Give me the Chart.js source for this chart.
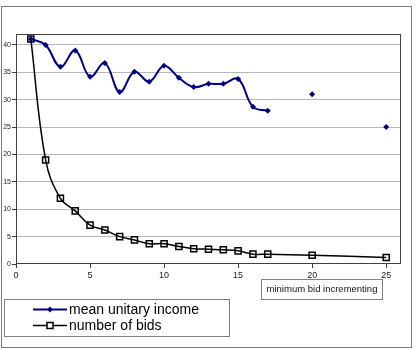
<!DOCTYPE html>
<html>
<head>
<meta charset="utf-8">
<script src="https://cdn.jsdelivr.net/npm/chart.js@4.4.1/dist/chart.umd.min.js"></script>
<style>
html,body{margin:0;padding:0;background:#fff}
#wrap{width:416px;height:349px}
</style>
</head>
<body>
<div id="wrap"><canvas id="chart" width="416" height="349"></canvas></div>
<script>
// minimum bid increment (x)
const increments=[1,2,3,4,5,6,7,8,9,10,11,12,13,14,15,16,17,18,19,20,21,22,23,24,25]
const meanIncome=[41.1,40,36,39,34.2,36.7,31.4,35.1,33.3,36.2,34,32.3,32.9,32.9,33.8,28.7,28,null,null,31,null,null,null,null,25]
const numBids=[41.1,19,12,9.7,7.1,6.2,5,4.4,3.7,3.7,3.2,2.8,2.7,2.6,2.4,1.8,1.8,null,null,1.6,null,null,null,null,1.2]
const seriesNames=['mean unitary income','number of bids']
const xTitle='minimum bid incrementing'

const font="'Liberation Sans', Arial, sans-serif"
const navy='#000080'

function pts(arr){
    return increments.map((x,i)=>({x:x,y:arr[i]}))
}

const frame={
    id:'frame',
    beforeDraw(chart){
        const ctx=chart.ctx
        ctx.save()
        ctx.fillStyle='#fff'
        ctx.fillRect(0,0,chart.width,chart.height)
        ctx.restore()
    },
    beforeDatasetsDraw(chart){
        const a=chart.chartArea
        const ctx=chart.ctx
        ctx.save()
        ctx.strokeStyle='#404040'
        ctx.lineWidth=1
        ctx.strokeRect(Math.round(a.left)+0.5,Math.round(a.top)+0.5,Math.round(a.right-a.left)-1,Math.round(a.bottom-a.top)-1)
        ctx.restore()
    },
    afterDraw(chart){
        const ctx=chart.ctx
        ctx.save()
        ctx.lineWidth=1
        // outer border
        ctx.strokeStyle='#7a7a7a'
        ctx.strokeRect(1.5,6.5,410,341)
        // axis title box
        ctx.strokeStyle='#808080'
        ctx.strokeRect(261.5,279.5,121,20)
        ctx.fillStyle='#111'
        ctx.font='9.5px '+font
        ctx.textAlign='center'
        ctx.textBaseline='middle'
        ctx.fillText(xTitle,322,289.5)
        // legend
        ctx.strokeStyle='#808080'
        ctx.strokeRect(4.5,299.5,225,37)
        const rows=[309,325]
        chart.data.datasets.forEach((ds,i)=>{
            const y=rows[i]+0.5
            ctx.strokeStyle=ds.borderColor
            ctx.lineWidth=ds.borderWidth
            ctx.beginPath()
            ctx.moveTo(33,y)
            ctx.lineTo(67,y)
            ctx.stroke()
            if(i===0){
                ctx.fillStyle=navy
                ctx.beginPath()
                ctx.moveTo(50,y-3)
                ctx.lineTo(53,y)
                ctx.lineTo(50,y+3)
                ctx.lineTo(47,y)
                ctx.closePath()
                ctx.fill()
            }else{
                ctx.fillStyle='#fff'
                ctx.fillRect(47,y-3,6,6)
                ctx.lineWidth=1.5
                ctx.strokeStyle='#000'
                ctx.strokeRect(47,y-3,6,6)
            }
            ctx.fillStyle='#000'
            ctx.font='14px '+font
            ctx.textAlign='left'
            ctx.textBaseline='middle'
            ctx.fillText(ds.label,69,rows[i]+1)
        })
        ctx.restore()
    }
}

new Chart(document.getElementById('chart'),{
    type:'line',
    data:{
        datasets:[{
            label:seriesNames[0],
            data:pts(meanIncome),
            borderColor:navy,
            backgroundColor:navy,
            borderWidth:2,
            tension:0.4,
            pointStyle:'rectRot',
            pointRadius:3,
            pointBorderWidth:0,
            pointBackgroundColor:navy,
            spanGaps:false
        },{
            label:seriesNames[1],
            data:pts(numBids),
            borderColor:'#000',
            backgroundColor:'rgba(0,0,0,0)',
            borderWidth:1.5,
            tension:0.4,
            pointStyle:'rect',
            pointRadius:4.3,
            pointBorderWidth:1.5,
            pointBorderColor:'#000',
            pointBackgroundColor:'rgba(0,0,0,0)',
            spanGaps:true
        }]
    },
    options:{
        responsive:false,
        animation:false,
        layout:{padding:{left:0,top:34,right:15,bottom:0}},
        plugins:{
            legend:{display:false},
            tooltip:{enabled:false}
        },
        scales:{
            x:{
                type:'linear',
                min:0,
                max:26,
                afterFit(s){ s.height=85 },
                border:{display:false},
                grid:{drawOnChartArea:false,drawTicks:true,tickLength:4,tickColor:'#404040'},
                ticks:{
                    stepSize:5,
                    includeBounds:false,
                    padding:2,
                    maxRotation:0,
                    color:'#222',
                    font:{family:font,size:9}
                }
            },
            y:{
                min:0,
                max:42,
                afterFit(s){ s.width=16 },
                border:{display:false},
                grid:{
                    color:(c)=>c.tick && c.tick.value===0 ? 'rgba(0,0,0,0)' : '#b8b8b8',
                    tickLength:4,
                    tickColor:'#404040'
                },
                ticks:{
                    stepSize:5,
                    includeBounds:false,
                    padding:1,
                    color:'#222',
                    font:{family:font,size:7}
                }
            }
        }
    },
    plugins:[frame]
})
</script>
</body>
</html>
